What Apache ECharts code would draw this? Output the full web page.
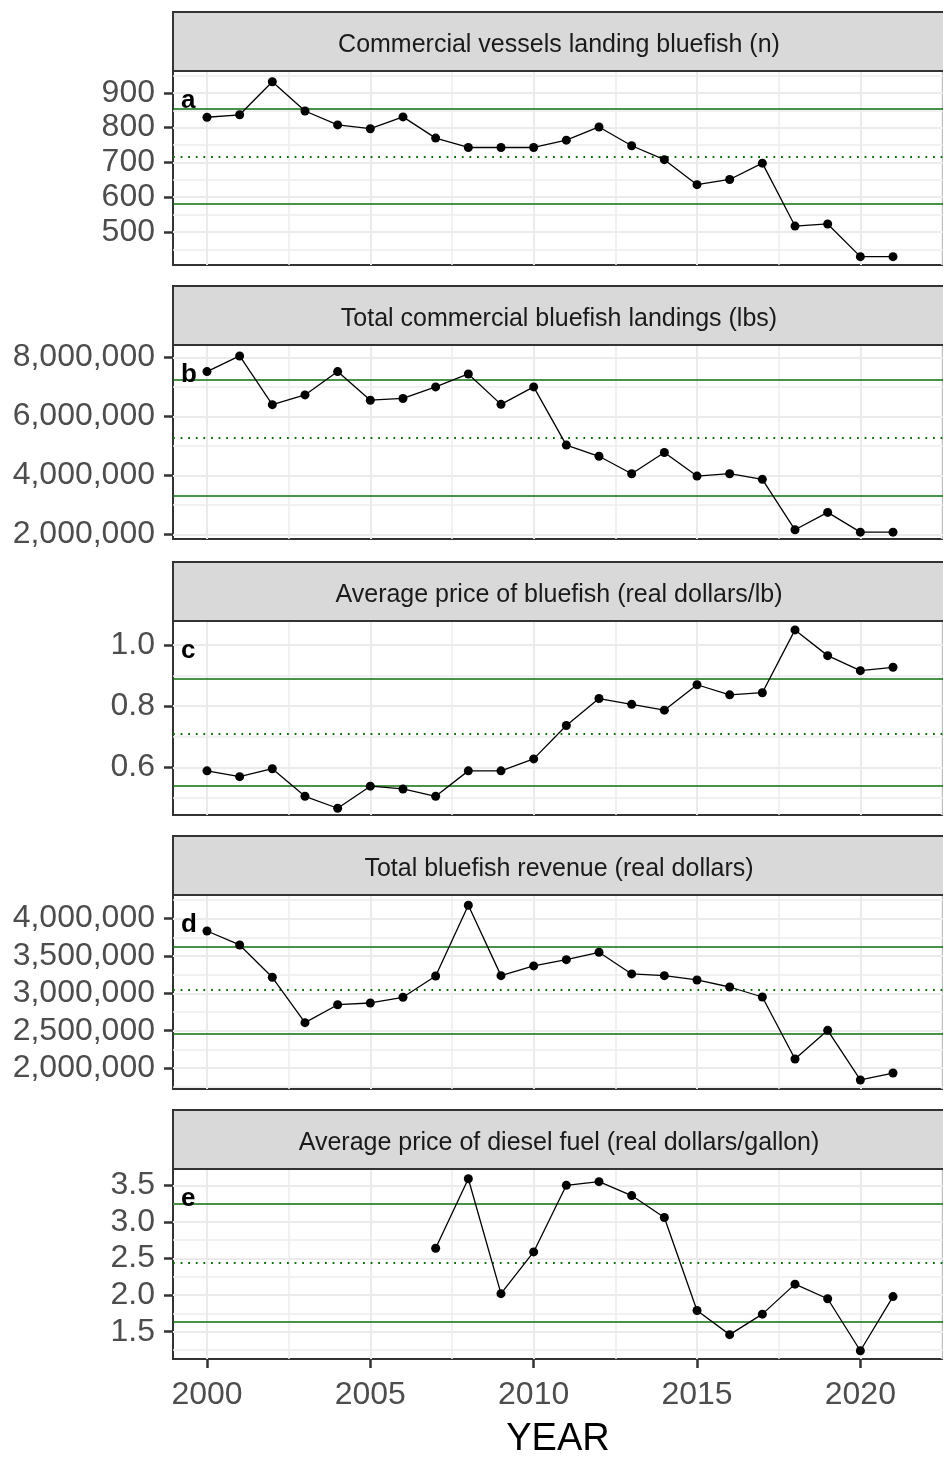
<!DOCTYPE html>
<html>
<head>
<meta charset="utf-8">
<script src="https://cdn.jsdelivr.net/npm/echarts@6/dist/echarts.min.js"></script>
<style>
  html, body { margin: 0; padding: 0; background: #ffffff; }
  #chart { width: 943px; height: 1460px; }
</style>
</head>
<body>
<div id="chart"></div>
<script>
// ---- data ----
const years = [2000, 2001, 2002, 2003, 2004, 2005, 2006, 2007, 2008, 2009, 2010,
               2011, 2012, 2013, 2014, 2015, 2016, 2017, 2018, 2019, 2020, 2021];

const vessels = [830, 837, 932, 848, 808, 797, 831, 770, 743, 743, 743,
                 764, 802, 748, 708, 636, 651, 698, 517, 523, 429, 429];

const landings = [7520000, 8050000, 6400000, 6730000, 7520000, 6550000, 6610000, 7000000, 7440000, 6410000, 7000000,
                  5030000, 4650000, 4060000, 4780000, 3980000, 4060000, 3870000, 2160000, 2750000, 2080000, 2080000];

const price = [0.589, 0.570, 0.596, 0.506, 0.467, 0.539, 0.530, 0.506, 0.589, 0.589, 0.628,
               0.737, 0.825, 0.806, 0.787, 0.870, 0.837, 0.844, 1.049, 0.965, 0.916, 0.927];

const revenue = [3835000, 3648000, 3215000, 2607000, 2848000, 2871000, 2947000, 3233000, 4180000, 3237000, 3367000,
                 3451000, 3550000, 3260000, 3237000, 3179000, 3085000, 2951000, 2121000, 2505000, 1840000, 1933000];

const diesel = [null, null, null, null, null, null, null, 2.64, 3.59, 2.02, 2.59,
                3.50, 3.55, 3.36, 3.06, 1.79, 1.46, 1.74, 2.15, 1.95, 1.24, 1.98];

// reference levels: [mean - sd, mean, mean + sd]
const refVessels  = [581, 717, 853];
const refLandings = [3330000, 5295000, 7260000];
const refPrice    = [0.539, 0.712, 0.890];
const refRevenue  = [2456000, 3045000, 3625000];
const refDiesel   = [1.637, 2.443, 3.247];

const panelTitles = [
  'Commercial vessels landing bluefish (n)',
  'Total commercial bluefish landings (lbs)',
  'Average price of bluefish (real dollars/lb)',
  'Total bluefish revenue (real dollars)',
  'Average price of diesel fuel (real dollars/gallon)'
];
const panelLetters = ['a', 'b', 'c', 'd', 'e'];

// tick values
const xTicks = [2000, 2005, 2010, 2015, 2020];
const yTicksVessels  = [500, 600, 700, 800, 900];
const yTicksLandings = [2000000, 4000000, 6000000, 8000000];
const yTicksPrice    = [0.6, 0.8, 1.0];
const yTicksRevenue  = [2000000, 2500000, 3000000, 3500000, 4000000];
const yTicksDiesel   = [1.5, 2.0, 2.5, 3.0, 3.5];

// axis limits
const xLimits = [1998.96, 2022.53];
const yLimitsVessels  = [405, 963];
const yLimitsLandings = [1848000, 8421000];
const yLimitsPrice    = [0.445, 1.078];
const yLimitsRevenue  = [1719000, 4317000];
const yLimitsDiesel   = [1.127, 3.723];

// ---- layout ----
const FONT = '"Liberation Sans", Arial, sans-serif';
const PLOT_LEFT = 173;
const PLOT_WIDTH = 772;
const STRIP_H = 59;
const panelTops = [71, 345, 621, 895, 1169];
const PLOT_H = 194;
const REF_GREEN = '#0e6e0e';

const fmtInt = v => Math.round(v).toString();
const fmtComma = v => Math.round(v).toLocaleString('en-US');
const fmt1 = v => v.toFixed(1);

const panels = [
  { values: vessels,  ref: refVessels,  ticks: yTicksVessels,  lim: yLimitsVessels,  fmt: fmtInt },
  { values: landings, ref: refLandings, ticks: yTicksLandings, lim: yLimitsLandings, fmt: fmtComma },
  { values: price,    ref: refPrice,    ticks: yTicksPrice,    lim: yLimitsPrice,    fmt: fmt1 },
  { values: revenue,  ref: refRevenue,  ticks: yTicksRevenue,  lim: yLimitsRevenue,  fmt: fmtComma },
  { values: diesel,   ref: refDiesel,   ticks: yTicksDiesel,   lim: yLimitsDiesel,   fmt: fmt1 }
];

// minor grid values: halfway between major ticks, plus half a step beyond each end
function minorValues(ticks, lim) {
  const step = ticks[1] - ticks[0];
  const out = [];
  for (let i = -1; i < ticks.length; i++) {
    const v = (i < 0 ? ticks[0] - step / 2 : ticks[i] + step / 2);
    if (v > lim[0] && v < lim[1]) out.push(v);
  }
  return out;
}

const grids = [], xAxes = [], yAxes = [], series = [], graphics = [];
const xMinor = minorValues(xTicks, xLimits);

panels.forEach((p, i) => {
  const top = panelTops[i];
  const isLast = i === panels.length - 1;

  grids.push({
    left: PLOT_LEFT, top: top, width: PLOT_WIDTH, height: PLOT_H,
    show: true, backgroundColor: '#ffffff', borderColor: '#333333', borderWidth: 2
  });

  xAxes.push({
    gridIndex: i, type: 'value', min: xLimits[0], max: xLimits[1],
    splitLine: { show: false },
    axisLine: { show: isLast, onZero: false, lineStyle: { color: '#333333', width: 2 } },
    axisTick: { show: isLast, customValues: xTicks, length: 9, lineStyle: { color: '#333333', width: 2.5 } },
    axisLabel: { show: isLast, customValues: xTicks, fontSize: 32, color: '#4d4d4d', fontFamily: FONT, margin: 20,
                 formatter: v => String(Math.round(v)) },
    name: isLast ? 'YEAR' : '',
    nameLocation: 'middle', nameGap: 62,
    nameTextStyle: { fontSize: 38, color: '#000000', fontFamily: FONT }
  });

  yAxes.push({
    gridIndex: i, type: 'value', min: p.lim[0], max: p.lim[1],
    splitLine: { show: false },
    axisLine: { show: true, onZero: false, lineStyle: { color: '#333333', width: 2 } },
    axisTick: { show: true, customValues: p.ticks, length: 9, lineStyle: { color: '#333333', width: 2.5 } },
    axisLabel: { show: true, customValues: p.ticks, fontSize: 32, color: '#4d4d4d', fontFamily: FONT, margin: 18,
                 padding: [5, 0, 0, 0], formatter: p.fmt }
  });

  // background grid lines
  const gridLines = [];
  p.ticks.forEach(v => gridLines.push({ yAxis: v, lineStyle: { color: '#ebebeb', width: 2, type: 'solid' } }));
  minorValues(p.ticks, p.lim).forEach(v => gridLines.push({ yAxis: v, lineStyle: { color: '#ededed', width: 1.5, type: 'solid' } }));
  xTicks.forEach(v => gridLines.push({ xAxis: v, lineStyle: { color: '#ebebeb', width: 2, type: 'solid' } }));
  xMinor.forEach(v => gridLines.push({ xAxis: v, lineStyle: { color: '#ededed', width: 1.5, type: 'solid' } }));

  series.push({
    type: 'line', xAxisIndex: i, yAxisIndex: i, data: [], z: 1, silent: true,
    markLine: { silent: true, symbol: ['none', 'none'], label: { show: false }, animation: false, data: gridLines }
  });

  // reference levels
  series.push({
    type: 'line', xAxisIndex: i, yAxisIndex: i, data: [], z: 2, silent: true,
    markLine: {
      silent: true, symbol: ['none', 'none'], label: { show: false }, animation: false,
      data: [
        { yAxis: p.ref[0], lineStyle: { color: REF_GREEN, width: 1.5, type: 'solid' } },
        { yAxis: p.ref[1], lineStyle: { color: REF_GREEN, width: 1.8, type: [1.8, 5.8] } },
        { yAxis: p.ref[2], lineStyle: { color: REF_GREEN, width: 1.5, type: 'solid' } }
      ]
    }
  });

  // observed series
  series.push({
    type: 'line', xAxisIndex: i, yAxisIndex: i, z: 5,
    data: years.map((y, k) => [y, p.values[k]]),
    connectNulls: false,
    symbol: 'circle', symbolSize: 9, showSymbol: true,
    itemStyle: { color: '#000000' },
    lineStyle: { color: '#000000', width: 1.3 },
    animation: false
  });

  // facet strip
  const stripTop = top - STRIP_H;
  graphics.push({
    type: 'rect', z: 10,
    shape: { x: PLOT_LEFT, y: stripTop, width: PLOT_WIDTH, height: STRIP_H },
    style: { fill: '#d9d9d9', stroke: '#333333', lineWidth: 2 }
  });
  graphics.push({
    type: 'text', z: 11,
    x: PLOT_LEFT + PLOT_WIDTH / 2, y: stripTop + STRIP_H / 2 + 4,
    style: { text: panelTitles[i], fill: '#1a1a1a', font: '25px ' + FONT, align: 'center', verticalAlign: 'middle' }
  });
  // panel letter
  graphics.push({
    type: 'text', z: 11,
    x: PLOT_LEFT + 8, y: top + 30,
    style: { text: panelLetters[i], fill: '#000000', font: 'bold 26px ' + FONT, align: 'left', verticalAlign: 'middle' }
  });
});

const chart = echarts.init(document.getElementById('chart'), null, { renderer: 'canvas' });
chart.setOption({
  backgroundColor: '#ffffff',
  animation: false,
  grid: grids,
  xAxis: xAxes,
  yAxis: yAxes,
  series: series,
  graphic: graphics
});
</script>
</body>
</html>
